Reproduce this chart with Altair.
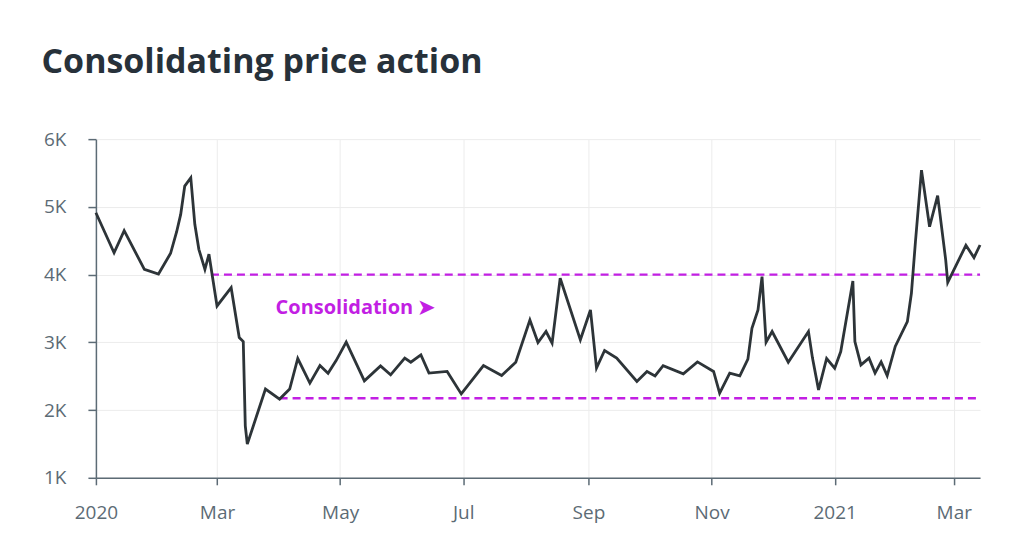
import altair as alt
import pandas as pd

dates = [
    "2020-01-01", "2020-01-10", "2020-01-15", "2020-01-25", "2020-02-01", "2020-02-07",
    "2020-02-10", "2020-02-12", "2020-02-14", "2020-02-17", "2020-02-19", "2020-02-21",
    "2020-02-24", "2020-02-26", "2020-03-01", "2020-03-08", "2020-03-12", "2020-03-14",
    "2020-03-15", "2020-03-16", "2020-03-25", "2020-04-01", "2020-04-06", "2020-04-10",
    "2020-04-16", "2020-04-21", "2020-04-25", "2020-04-29", "2020-05-04", "2020-05-13",
    "2020-05-21", "2020-05-26", "2020-06-02", "2020-06-05", "2020-06-10", "2020-06-14",
    "2020-06-23", "2020-06-30", "2020-07-11", "2020-07-20", "2020-07-27", "2020-08-03",
    "2020-08-07", "2020-08-11", "2020-08-14", "2020-08-18", "2020-08-28", "2020-09-02",
    "2020-09-05", "2020-09-09", "2020-09-15", "2020-09-25", "2020-09-30", "2020-10-04",
    "2020-10-08", "2020-10-18", "2020-10-25", "2020-11-02", "2020-11-05", "2020-11-10",
    "2020-11-15", "2020-11-19", "2020-11-21", "2020-11-24", "2020-11-26", "2020-11-28",
    "2020-12-01", "2020-12-09", "2020-12-19", "2020-12-21", "2020-12-24", "2020-12-28",
    "2021-01-01", "2021-01-04", "2021-01-10", "2021-01-11", "2021-01-14", "2021-01-18",
    "2021-01-21", "2021-01-24", "2021-01-27", "2021-01-31", "2021-02-06", "2021-02-08",
    "2021-02-10", "2021-02-13", "2021-02-17", "2021-02-21", "2021-02-25", "2021-02-26",
    "2021-03-07", "2021-03-11", "2021-03-14",
]
prices = [
    4913, 4323, 4648, 4078, 4009, 4315,
    4633, 4889, 5307, 5430, 4742, 4373,
    4078, 4301, 3537, 3807, 3070, 3012,
    1767, 1497, 2310, 2162, 2310, 2761,
    2398, 2658, 2544, 2730, 3002, 2431,
    2652, 2520, 2767, 2707, 2814, 2546,
    2570, 2239, 2656, 2510, 2707, 3330,
    2997, 3160, 2988, 3946, 3037, 3478,
    2619, 2879, 2767, 2422, 2570, 2505,
    2656, 2534, 2711, 2570, 2251, 2546,
    2505, 2751, 3208, 3478, 3969, 3002,
    3160, 2707, 3160, 2767, 2298, 2761,
    2619, 2864, 3906, 3010, 2667, 2767,
    2546, 2711, 2510, 2939, 3306, 3724,
    4485, 5543, 4707, 5165, 4215, 3886,
    4432, 4251, 4437,
]

band_levels = [4000, 2175]
band_starts = ["2020-02-27", "2020-04-01"]
band_end = "2021-03-14"

label_text = ["Consolidation ➤"]
label_date = ["2020-03-30"]
label_value = [3500]

df = pd.DataFrame({"date": pd.to_datetime(dates), "price": prices})
bands = pd.DataFrame({
    "start": pd.to_datetime(band_starts),
    "end": pd.to_datetime([band_end] * len(band_levels)),
    "level": band_levels,
})
labels = pd.DataFrame({"date": pd.to_datetime(label_date), "price": label_value, "text": label_text})

axis_col = "#5c6b75"
x_scale = alt.Scale(
    domain=[alt.DateTime(year=2020, month=1, date=1), alt.DateTime(year=2021, month=3, date=14)],
    nice=False,
)
y_scale = alt.Scale(domain=[1000, 6000], nice=False)

x_axis = alt.Axis(
    title=None,
    tickCount={"interval": "month", "step": 2},
    labelExpr="month(datum.value) == 0 ? timeFormat(datum.value, '%Y') : timeFormat(datum.value, '%b')",
    tickSize=7,
    labelPadding=19,
    labelFlush=False,
    grid=True,
)
y_axis = alt.Axis(
    title=None,
    values=[1000, 2000, 3000, 4000, 5000, 6000],
    labelExpr="(datum.value / 1000) + 'K'",
    tickSize=8,
    labelPadding=22,
    grid=True,
)

line = alt.Chart(df).mark_line(color="#2d3438", strokeWidth=2.8).encode(
    x=alt.X("date:T", scale=x_scale, axis=x_axis),
    y=alt.Y("price:Q", scale=y_scale, axis=y_axis),
)

rules = alt.Chart(bands).mark_rule(color="#c21fe3", strokeWidth=2.4, strokeDash=[8, 5]).encode(
    x=alt.X("start:T", scale=x_scale),
    x2="end:T",
    y=alt.Y("level:Q", scale=y_scale),
)

text = alt.Chart(labels).mark_text(
    color="#c21fe3", font="Open Sans", fontSize=20, fontWeight="bold", align="left", baseline="middle"
).encode(
    x=alt.X("date:T", scale=x_scale),
    y=alt.Y("price:Q", scale=y_scale),
    text="text:N",
)

chart = alt.layer(rules, line, text).properties(
    width=885,
    height=339,
    padding={"left": 33, "top": 38, "right": 30, "bottom": 10},
    title=alt.TitleParams(
        "Consolidating price action",
        font="Open Sans",
        fontSize=34,
        fontWeight="bold",
        color="#27313a",
        anchor="start",
        frame="bounds",
        offset=50,
        dx=-2,
    ),
).configure_view(stroke=None).configure_axis(
    domainColor=axis_col,
    tickColor=axis_col,
    domainWidth=1.5,
    tickWidth=1.5,
    labelColor=axis_col,
    labelFont="Open Sans",
    labelFontSize=19,
    gridColor="#ececec",
    gridWidth=1,
)

chart.save("out.html", embed_options={"renderer": "svg", "actions": False})
